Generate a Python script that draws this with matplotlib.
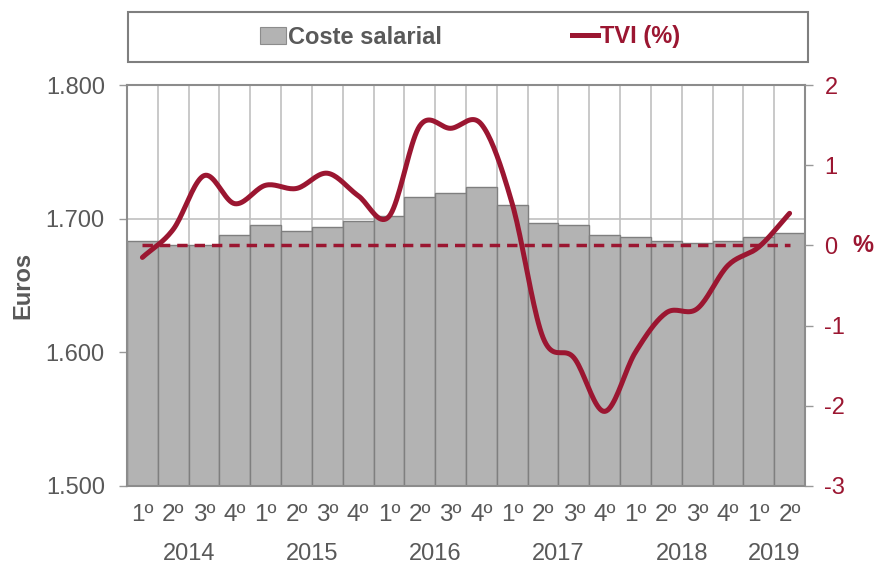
import numpy as np
import matplotlib
matplotlib.use("Agg")
import matplotlib.pyplot as plt
from matplotlib.patches import Rectangle, Patch
from matplotlib.lines import Line2D
from matplotlib.ticker import FuncFormatter

plt.rcParams['font.family'] = ['Liberation Sans', 'DejaVu Sans']
plt.rcParams['axes.unicode_minus'] = False

# ---- data ----
quarters = ["1º", "2º", "3º", "4º"] * 5 + ["1º", "2º"]
years = [2014] * 4 + [2015] * 4 + [2016] * 4 + [2017] * 4 + [2018] * 4 + [2019] * 2
coste_salarial = [1683, 1680, 1680, 1688, 1695, 1691, 1694, 1698, 1702, 1716, 1719, 1724,
                  1710, 1697, 1695, 1688, 1686, 1683, 1682, 1683, 1686, 1689]
tvi = [-0.15, 0.20, 0.87, 0.52, 0.75, 0.71, 0.90, 0.62, 0.36, 1.49, 1.46, 1.51,
       0.52, -1.15, -1.40, -2.07, -1.33, -0.84, -0.79, -0.25, -0.02, 0.40]
left_ticks = [1500, 1600, 1700, 1800]
right_ticks = [-3, -2, -1, 0, 1, 2]

GRAY_TXT = "#595959"
RED = "#9b1631"
BAR = "#b3b3b3"
BAR_EDGE = "#7f7f7f"
GRID = "#c0c0c0"


def catmull_rom(x, y, n=20):
    x = np.asarray(x, float)
    y = np.asarray(y, float)
    px = np.concatenate([[2 * x[0] - x[1]], x, [2 * x[-1] - x[-2]]])
    py = np.concatenate([[2 * y[0] - y[1]], y, [2 * y[-1] - y[-2]]])
    xs, ys = [], []
    for i in range(1, len(px) - 2):
        t = np.linspace(0, 1, n, endpoint=(i == len(px) - 3))
        for P, out in ((px, xs), (py, ys)):
            p0, p1, p2, p3 = P[i - 1], P[i], P[i + 1], P[i + 2]
            out.extend(0.5 * ((2 * p1) + (-p0 + p2) * t + (2 * p0 - 5 * p1 + 4 * p2 - p3) * t ** 2
                              + (-p0 + 3 * p1 - 3 * p2 + p3) * t ** 3))
    return np.array(xs), np.array(ys)


fig = plt.figure(figsize=(8.82, 5.67), dpi=100)
ax = fig.add_axes([127 / 882, 1 - 486 / 567, (805 - 127) / 882, (486 - 85) / 567])

n = len(coste_salarial)
x = np.arange(n)

# grid
ax.set_axisbelow(True)
for e in np.arange(n + 1) - 0.5:
    ax.axvline(e, color=GRID, lw=1.2, zorder=0)
ax.axhline(1700, color=GRID, lw=1.2, zorder=0)

ax.bar(x, coste_salarial, width=1.0, bottom=0, color=BAR, edgecolor=BAR_EDGE, linewidth=1.0, zorder=2)
ax.set_ylim(1500, 1800)
ax.set_xlim(-0.5, n - 0.5)
ax.set_yticks(left_ticks)
ax.yaxis.set_major_formatter(FuncFormatter(lambda v, p: f"{int(v):,}".replace(",", ".")))
ax.tick_params(axis='y', colors=GRAY_TXT, labelsize=17, length=6, width=1, color="#999999", pad=10)
ax.set_xticks(x)
ax.set_xticklabels(quarters)
ax.tick_params(axis='x', length=0, labelsize=17.5, colors=GRAY_TXT, pad=13)
for s in ax.spines.values():
    s.set_color("#8c8c8c")
    s.set_linewidth(1.5)
ax.set_ylabel("Euros", fontsize=17, fontweight='bold', color=GRAY_TXT, labelpad=8)

# year labels
for yr in sorted(set(years)):
    idx = [i for i, v in enumerate(years) if v == yr]
    ax.text(np.mean(idx), -0.17, str(yr), transform=ax.get_xaxis_transform(),
            ha='center', va='center', fontsize=17, color=GRAY_TXT)

ax2 = ax.twinx()
ax2.set_ylim(-3, 2)
ax2.set_yticks(right_ticks)
ax2.tick_params(axis='y', colors=RED, labelsize=17, length=6, width=1, color="#999999", pad=8)
for lab in ax2.get_yticklabels():
    lab.set_color(RED)
for s in ax2.spines.values():
    s.set_visible(False)
ax2.plot([x[0], x[-1]], [0, 0], color=RED, lw=2.5, ls=(0, (3, 2)), zorder=3)
sx, sy = catmull_rom(x, tvi)
ax2.plot(sx, sy, color=RED, lw=3.6, solid_capstyle='round', zorder=4)
ax2.text(1.085, 0, "%", transform=ax2.get_yaxis_transform(), fontsize=17, fontweight='bold',
         color=RED, ha='center', va='center')

# legend box
fig.patches.append(Rectangle((128 / 882, 1 - 62 / 567), 680 / 882, 50 / 567, transform=fig.transFigure,
                             facecolor='white', edgecolor="#7f7f7f", lw=1.5))
handles = [Patch(facecolor=BAR, edgecolor="#8c8c8c", lw=0.8), Line2D([], [], color=RED, lw=3.6)]
leg = fig.legend(handles, ["Coste salarial", "TVI (%)"], loc='center', ncol=2,
                 bbox_to_anchor=(470 / 882, 1 - 37 / 567), frameon=False,
                 prop={'size': 17, 'weight': 'bold'}, handlelength=1.1, handletextpad=0.1,
                 columnspacing=5.5, handleheight=0.7)
leg.get_texts()[0].set_color(GRAY_TXT)
leg.get_texts()[1].set_color(RED)

fig.savefig("out.png", dpi=100)
